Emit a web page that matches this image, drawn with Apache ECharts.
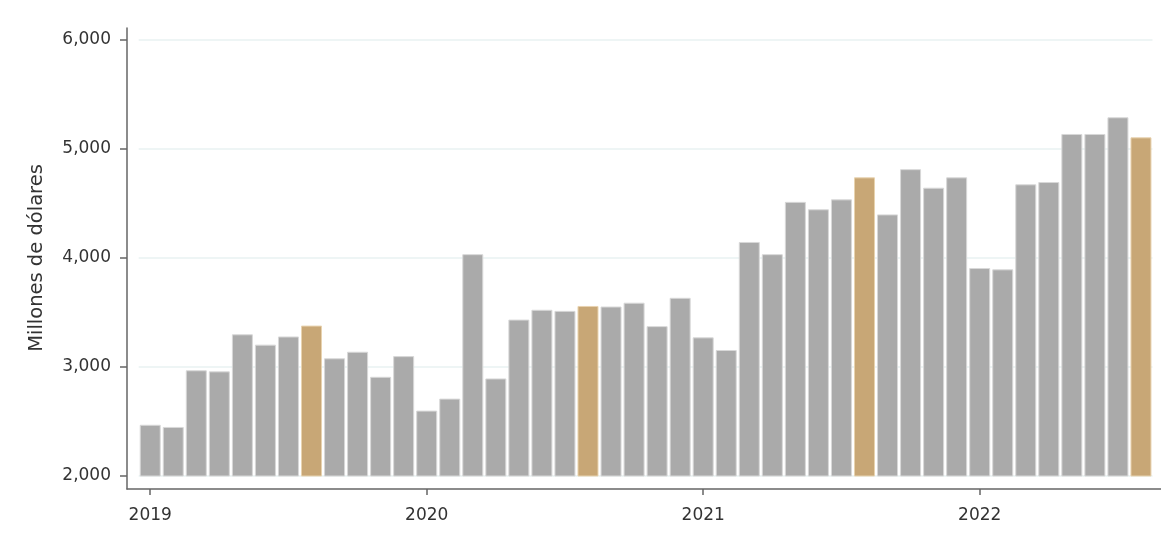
<!DOCTYPE html>
<html>
<head>
<meta charset="utf-8">
<script src="https://cdn.jsdelivr.net/npm/echarts@6/dist/echarts.min.js"></script>
<style>
  html, body { margin: 0; padding: 0; background: #fff; }
  #main { width: 1161px; height: 560px; }
</style>
</head>
<body>
<div id="main"></div>
<script>
// months shown, one bar each
var months = [
  '2019-01', '2019-02', '2019-03', '2019-04', '2019-05', '2019-06',
  '2019-07', '2019-08', '2019-09', '2019-10', '2019-11', '2019-12',
  '2020-01', '2020-02', '2020-03', '2020-04', '2020-05', '2020-06',
  '2020-07', '2020-08', '2020-09', '2020-10', '2020-11', '2020-12',
  '2021-01', '2021-02', '2021-03', '2021-04', '2021-05', '2021-06',
  '2021-07', '2021-08', '2021-09', '2021-10', '2021-11', '2021-12',
  '2022-01', '2022-02', '2022-03', '2022-04', '2022-05', '2022-06',
  '2022-07', '2022-08'
];

// millones de dólares
var values = [
  2470, 2450, 2970, 2960, 3300, 3205, 3280, 3380, 3080, 3140, 2910, 3100,
  2600, 2710, 4035, 2895, 3435, 3525, 3515, 3560, 3555, 3590, 3375, 3635,
  3272, 3156, 4147, 4035, 4515, 4447, 4538, 4740, 4400, 4815, 4645, 4740,
  3908, 3896, 4676, 4697, 5138, 5138, 5291, 5107
];

// months drawn in the accent colour
var highlighted = ['2019-08', '2020-08', '2021-08', '2022-08'];

var yTicks = [2000, 3000, 4000, 5000, 6000];

var grey = '#aaaaaa';
var tan = '#c8a776';
var textColor = '#333';
var fontFamily = '"DejaVu Sans", sans-serif';

var barData = values.map(function (v, i) {
  var hi = highlighted.indexOf(months[i]) >= 0;
  return {
    value: v,
    itemStyle: {
      color: hi ? tan : grey,
      borderColor: hi ? '#e8d3b0' : '#d8d8d8',
      borderWidth: 1
    }
  };
});

function isJanuary(index) {
  return index % 12 === 0;
}

var myChart = echarts.init(document.getElementById('main'));

myChart.setOption({
  backgroundColor: '#fff',
  animation: false,
  grid: [
    // frame with the axis lines
    { left: 127, right: 0, top: 28, bottom: 71 },
    // plotting area for the bars
    { left: 138.7, right: 8.5, top: 40, bottom: 84 }
  ],
  xAxis: [
    {
      gridIndex: 0, type: 'value', min: 0, max: 1,
      axisLine: { show: true, onZero: false, lineStyle: { color: '#666', width: 1.5 } },
      axisTick: { show: false }, axisLabel: { show: false }, splitLine: { show: false }
    },
    {
      gridIndex: 1, type: 'category', data: months, offset: 13,
      axisLine: { show: false },
      axisTick: {
        show: true, alignWithLabel: true, interval: isJanuary, length: 6,
        lineStyle: { color: '#666', width: 1.5 }
      },
      axisLabel: {
        interval: isJanuary, margin: 18,
        color: textColor, fontFamily: fontFamily, fontSize: 17,
        formatter: function (v) { return v.slice(0, 4); }
      },
      splitLine: { show: false }
    }
  ],
  yAxis: [
    {
      gridIndex: 0, type: 'value', min: 0, max: 1,
      axisLine: { show: true, onZero: false, lineStyle: { color: '#666', width: 1.5 } },
      axisTick: { show: false }, axisLabel: { show: false }, splitLine: { show: false }
    },
    {
      gridIndex: 1, type: 'value',
      min: yTicks[0], max: yTicks[yTicks.length - 1], interval: 1000,
      offset: 11.7,
      name: 'Millones de dólares',
      nameLocation: 'middle',
      nameGap: 80,
      nameTextStyle: { color: textColor, fontFamily: fontFamily, fontSize: 19.5 },
      axisLine: { show: false },
      axisTick: { show: true, length: 7, lineStyle: { color: '#666', width: 1.5 } },
      axisLabel: {
        margin: 16, color: textColor, fontFamily: fontFamily, fontSize: 17,
        formatter: function (v) { return v.toLocaleString('en-US'); }
      },
      splitLine: { show: true, lineStyle: { color: '#e9f2f2', width: 1.5 } }
    }
  ],
  series: [{
    type: 'bar',
    xAxisIndex: 1,
    yAxisIndex: 1,
    barWidth: 21,
    data: barData
  }]
});
</script>
</body>
</html>
